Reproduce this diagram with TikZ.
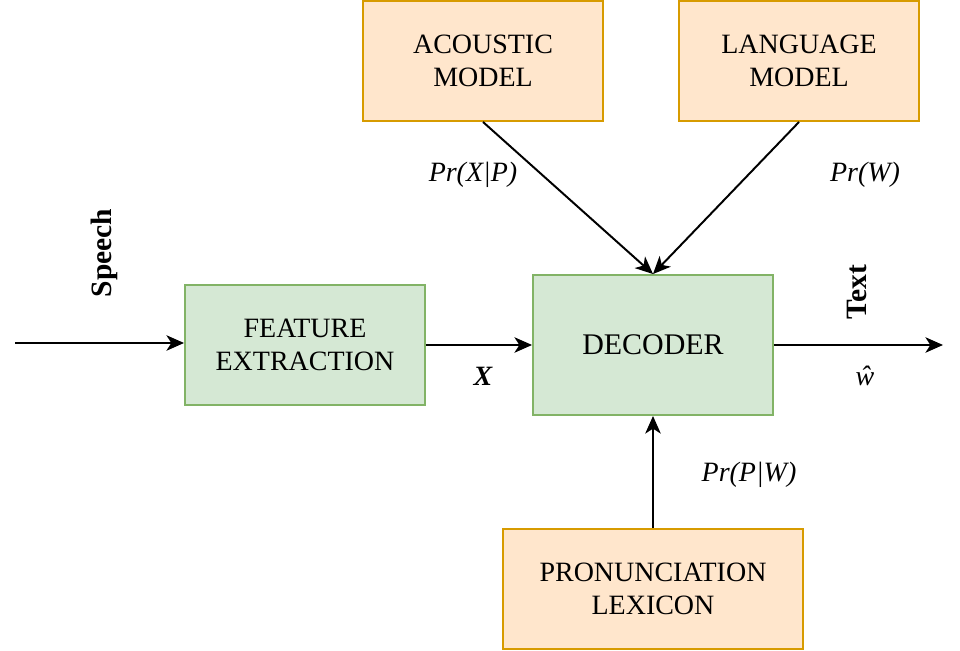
\documentclass[tikz,border=0pt]{standalone}
\usepackage{fontspec}
\setmainfont{Liberation Serif}
\usetikzlibrary{arrows.meta}
\definecolor{modelfill}{HTML}{FFE6CC}
\definecolor{modelline}{HTML}{D79B00}
\definecolor{stepfill}{HTML}{D5E8D4}
\definecolor{stepline}{HTML}{82B366}
\begin{document}
\begin{tikzpicture}[>={Stealth[length=12.5pt,width=11pt,inset=3.5pt]},line width=1.4pt,
	every node/.style={font=\fontsize{19.9}{23.9}\selectfont},
	modelbox/.style={draw=modelline,fill=modelfill,minimum width=6cm,minimum height=3cm,align=center,inner sep=0pt},
	stepbox/.style={draw=stepline,fill=stepfill,minimum width=6cm,minimum height=3cm,align=center,inner sep=0pt},
	prob/.style={font=\fontsize{19.9}{23.9}\selectfont\itshape},
	side/.style={font=\fontsize{21}{25}\selectfont\bfseries,rotate=90}]
	\useasboundingbox (0,0) rectangle (24,16.25);
	% cac khoi
	\node[modelbox] (acoustic) at (12.075,14.725) {ACOUSTIC\\MODEL};
	\node[modelbox] (language) at (19.975,14.725) {LANGUAGE\\MODEL};
	\node[stepbox] (feature) at (7.625,7.625) {FEATURE\\EXTRACTION};
	\node[stepbox,minimum height=3.5cm,font=\fontsize{21.3}{25.5}\selectfont] (decoder) at (16.325,7.625) {DECODER};
	\node[modelbox,minimum width=7.5cm] (lexicon) at (16.325,1.525) {PRONUNCIATION\\LEXICON};
	\path
	(0.375,7.675) coordinate (speech)
	(23.575,7.625) coordinate (text);
	% cac mui ten
	\draw[->] (speech) -- (speech -| feature.west);
	\draw[->] (feature) -- (decoder);
	\draw[->] (decoder) -- (text);
	\draw[->] (acoustic.south) -- (decoder.north);
	\draw[->] (language.south) -- (decoder.north);
	\draw[->] (lexicon) -- (decoder);
	% nhan
	\node[side] (speechlbl) at (2.6,9.925) {Speech};
	\node[side] (textlbl) at (21.425,8.95) {Text};
	\node[prob] (pxp) at (11.825,11.875) {Pr(X|P)};
	\node[prob] (pw) at (21.625,11.875) {Pr(W)};
	\node[prob] (ppw) at (18.725,4.375) {Pr(P|W)};
	\node[prob,font=\fontsize{19.9}{23.9}\selectfont\bfseries\itshape] (xlbl) at (12.075,6.85) {X};
	\node[prob] (wlbl) at (21.625,6.85) {ŵ};
\end{tikzpicture}
\end{document}
